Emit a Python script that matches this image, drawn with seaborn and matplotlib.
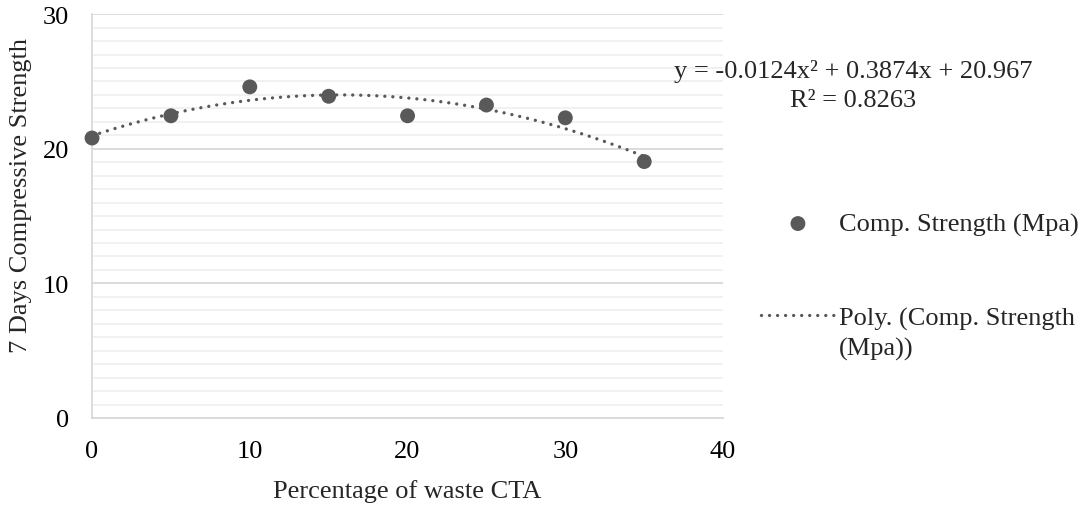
import numpy as np
import pandas as pd
import matplotlib
matplotlib.use("Agg")
import matplotlib.pyplot as plt
import seaborn as sns
from matplotlib.ticker import MultipleLocator

# DATA
cta_pct = [0, 5, 10, 15, 20, 25, 30, 35]
comp_strength = [20.8, 22.45, 24.6, 23.9, 22.45, 23.25, 22.3, 19.05]
point_label = "Comp. Strength (Mpa)"
trend_label = "Poly. (Comp. Strength"
trend_label_wrap = "(Mpa))"
eq_text = "y = -0.0124x² + 0.3874x + 20.967\nR² = 0.8263"
x_ticks = [0, 10, 20, 30, 40]
y_ticks = [0, 10, 20, 30]

df = pd.DataFrame({"pct": cta_pct, "strength": comp_strength})

# CONFIG
sns.set_style("white")
plt.rcParams["font.family"] = ["Liberation Serif", "DejaVu Serif"]
FS = 19
plt.rcParams["font.size"] = FS

grey = "#595959"
line_grey = "#d9d9d9"

fig = plt.figure(figsize=(10.89, 5.06), dpi=100)
ax = fig.add_axes([0.0845, 0.172, 0.5795, 0.798])

# trendline (2nd order poly) + points
sns.regplot(data=df, x="pct", y="strength", order=2, ci=None, scatter=False, ax=ax,
            label=trend_label,
            line_kws=dict(color=grey, lw=2.4, linestyle=(0, (0.01, 2.4)),
                          dash_capstyle="round", zorder=2))
trend_line = ax.lines[-1]
trend_line.set_label(trend_label)
sns.scatterplot(data=df, x="pct", y="strength", ax=ax, s=115, color=grey,
                edgecolor="none", label=point_label, zorder=3, clip_on=False)
pts = ax.collections[-1]

# axes
ax.set_xlim(0, 40)
ax.set_ylim(0, 30)
ax.set_xticks(x_ticks)
ax.set_yticks(y_ticks)
ax.yaxis.set_minor_locator(MultipleLocator(1))
ax.yaxis.grid(True, which="major", color=line_grey, lw=1.3)
ax.yaxis.grid(True, which="minor", color="#f0f0f0", lw=1.3)
ax.xaxis.grid(False)
ax.set_axisbelow(True)
for s in ["top", "right"]:
    ax.spines[s].set_visible(False)
for s in ["left", "bottom"]:
    ax.spines[s].set_color(line_grey)
    ax.spines[s].set_linewidth(1.3)
ax.tick_params(axis="both", which="major", direction="out", length=5, width=1.3,
               color=line_grey, labelsize=FS, labelcolor="black")
ax.tick_params(axis="x", pad=11)
ax.tick_params(axis="y", pad=11.5)
ax.tick_params(axis="y", which="minor", length=0)

ax.set_xlabel("Percentage of waste CTA", fontsize=FS)
ax.set_ylabel("7 Days Compressive Strength", fontsize=FS)
ax.xaxis.set_label_coords(0.5, -0.15)
ax.yaxis.set_label_coords(-0.095, 0.554)

# equation label
fig.text(853 / 1089, 1 - 86 / 506, eq_text, ha="center", va="center",
         fontsize=FS, linespacing=1.45)

# legend (Excel style: handle sits on the first line of the wrapped label)
if ax.get_legend() is not None:
    ax.get_legend().remove()
leg = fig.legend([pts, trend_line], [point_label, trend_label],
                 loc="upper left", bbox_to_anchor=(761 / 1089, 1 - 213 / 506),
                 frameon=False, fontsize=FS, handlelength=2.8, handletextpad=0.15,
                 labelspacing=2.65, borderpad=0, borderaxespad=0)
fig.canvas.draw()
bb = leg.get_texts()[1].get_window_extent()
x0, y0 = fig.transFigure.inverted().transform((bb.x0, bb.y0))
fig.text(x0, y0 - 30 / 506, trend_label_wrap, ha="left", va="bottom", fontsize=FS)

fig.savefig("out.png", dpi=100)
